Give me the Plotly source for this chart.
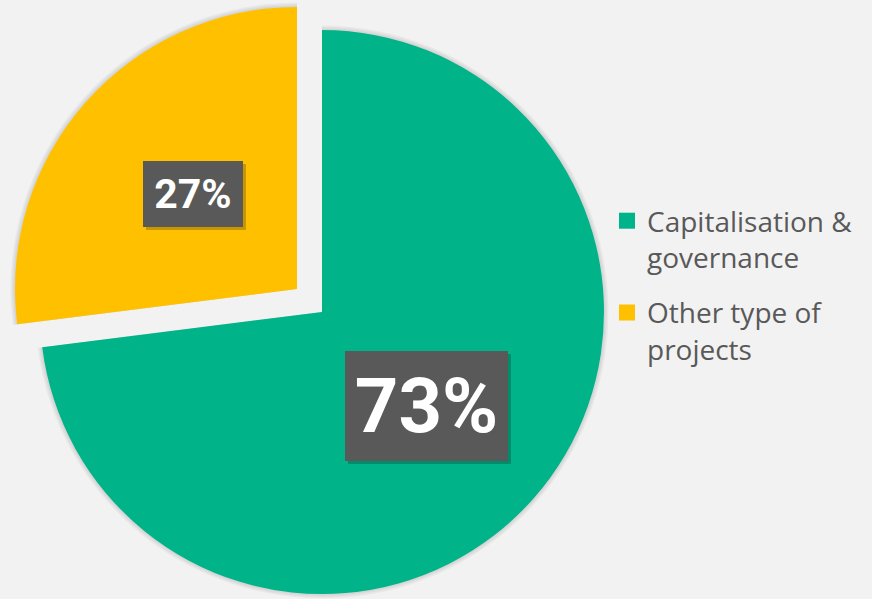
import plotly.graph_objects as go

categories = ["Capitalisation &<br>governance", "Other type of<br>projects"]
values = [73, 27]
pct_labels = ["73%", "27%"]
colors = ["#00B388", "#FFC000"]
transparent = "rgba(0,0,0,0)"

W, H = 872, 599

def dom(cx, cy, r):
    clamp = lambda v: min(1.0, max(0.0, v))
    return dict(x=[clamp((cx - r) / W), clamp((cx + r) / W)],
                y=[clamp(1 - (cy + r) / H), clamp(1 - (cy - r) / H)])

fig = go.Figure()

# soft shadow layers behind slices
for extra in [4.5, 3, 1.5]:
    shade = "rgba(0,0,0,0.04)"
    fig.add_trace(go.Pie(
        labels=categories, values=values, sort=False, direction="clockwise", rotation=0,
        marker=dict(colors=[shade, transparent], line=dict(width=0)),
        textinfo="none", hoverinfo="skip", showlegend=False,
        domain=dom(322, 312, 282 + extra),
    ))
    fig.add_trace(go.Pie(
        labels=categories, values=values, sort=False, direction="clockwise", rotation=0,
        marker=dict(colors=[transparent, shade], line=dict(width=0)),
        textinfo="none", hoverinfo="skip", showlegend=False,
        domain=dom(297, 289, 282 + extra),
    ))

# main slice (not pulled)
fig.add_trace(go.Pie(
    labels=categories, values=values, sort=False, direction="clockwise", rotation=0,
    marker=dict(colors=[colors[0], transparent], line=dict(width=0)),
    textinfo="none", hoverinfo="skip", showlegend=False,
    domain=dom(322, 312, 282),
))
# exploded slice (pulled out)
fig.add_trace(go.Pie(
    labels=categories, values=values, sort=False, direction="clockwise", rotation=0,
    marker=dict(colors=[transparent, colors[1]], line=dict(width=0)),
    textinfo="none", hoverinfo="skip", showlegend=False,
    domain=dom(297, 289, 282),
))
# legend entries
for i, (name, c) in enumerate(zip(categories, colors)):
    fig.add_trace(go.Scatter(
        x=[None], y=[None], mode="markers", name=name, legendgroup=f"g{i}",
        marker=dict(symbol="square", size=18, color=c),
    ))

# percentage label boxes (with a small drop shadow)
label_pos = [(426, 405.5, 163, 110, 76), (193, 194, 100, 66, 41)]
for txt, (cx, cy, w, h, fs) in zip(pct_labels, label_pos):
    fig.add_annotation(
        x=(cx + 3) / W, y=1 - (cy + 3) / H, xref="paper", yref="paper", showarrow=False,
        text="", bgcolor="rgba(0,0,0,0.22)", width=w, height=h, borderpad=0, borderwidth=0,
        xanchor="center", yanchor="middle",
    )
    fig.add_annotation(
        x=cx / W, y=1 - cy / H, xref="paper", yref="paper", showarrow=False,
        text=f"<b>{txt}</b>", font=dict(family="Roboto", size=fs, color="white"),
        bgcolor="#595959", width=w, height=h, borderpad=0, borderwidth=0,
        xanchor="center", yanchor="middle",
    )

fig.update_layout(
    width=W, height=H, margin=dict(l=0, r=0, t=0, b=0),
    paper_bgcolor="#F2F2F2", plot_bgcolor="#F2F2F2",
    xaxis=dict(visible=False), yaxis=dict(visible=False),
    legend=dict(
        x=607 / W, y=1 - 196 / H, xanchor="left", yanchor="top",
        font=dict(family="Open Sans", size=28, color="#595959"),
        valign="top", tracegroupgap=16, bgcolor="rgba(0,0,0,0)",
        itemwidth=30,
    ),
)

fig.write_html("out.html", config={"displayModeBar": False},
               post_script="document.body.style.margin='0px';document.body.style.padding='0px';")
